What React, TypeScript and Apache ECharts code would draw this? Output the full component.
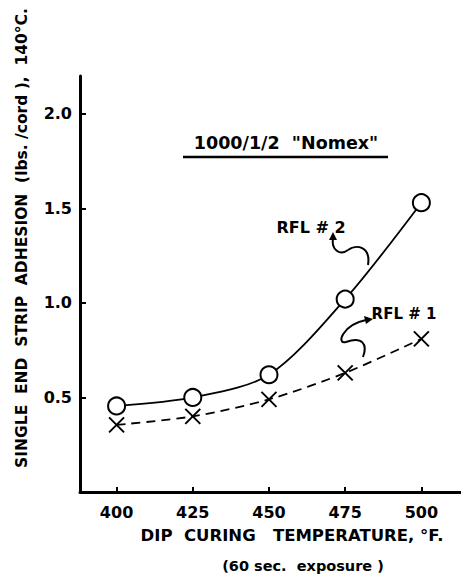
import React, { useEffect, useRef } from "react";
import * as echarts from "echarts";

const temperatures = [400, 425, 450, 475, 500];
const rfl2Values = [0.455, 0.5, 0.62, 1.02, 1.53];
const rfl1Values = [0.355, 0.4, 0.49, 0.63, 0.81];
const xTicks = [400, 425, 450, 475, 500];
const yTicks = [0.5, 1.0, 1.5, 2.0];

const FONT = "DejaVu Sans";

export default function App() {
  const ref = useRef<HTMLDivElement>(null);

  useEffect(() => {
    if (!ref.current) return;
    const chart = echarts.init(ref.current, null, { renderer: "svg" });
    const toPairs = (vals: number[]) => temperatures.map((t, i) => [t, vals[i]]);

    const option: any = {
      animation: false,
      backgroundColor: "#fff",
      grid: { left: 80, right: 0, top: 76, bottom: 84 },
      xAxis: {
        type: "value",
        min: 388,
        max: 513,
        splitLine: { show: false },
        axisLine: { lineStyle: { color: "#000", width: 3 } },
        axisTick: { inside: true, length: 5, customValues: xTicks, lineStyle: { color: "#000", width: 2 } },
        axisLabel: {
          customValues: xTicks,
          color: "#000",
          fontFamily: FONT,
          fontWeight: "bold",
          fontSize: 16,
          margin: 12,
        },
      },
      yAxis: {
        type: "value",
        min: 0,
        max: 2.2,
        splitLine: { show: false },
        axisLine: { lineStyle: { color: "#000", width: 3 } },
        axisTick: { inside: true, length: 6, customValues: yTicks, lineStyle: { color: "#000", width: 2 } },
        axisLabel: {
          customValues: yTicks,
          formatter: (v: number) => v.toFixed(1),
          color: "#000",
          fontFamily: FONT,
          fontWeight: "bold",
          fontSize: 16,
          margin: 8,
        },
      },
      series: [
        {
          name: "RFL # 2",
          type: "line",
          data: toPairs(rfl2Values),
          smooth: 0.3,
          symbol: "circle",
          symbolSize: 17,
          lineStyle: { color: "#000", width: 1.8 },
          itemStyle: { color: "#fff", borderColor: "#000", borderWidth: 2 },
          z: 3,
        },
        {
          name: "RFL # 1",
          type: "line",
          data: toPairs(rfl1Values),
          smooth: 0.3,
          symbol: "path://M0,0L10,10M10,0L0,10",
          symbolSize: 15,
          lineStyle: { color: "#000", width: 1.8, type: [9, 6] },
          itemStyle: { color: "#000", borderColor: "#000", borderWidth: 2 },
          z: 2,
        },
      ],
      graphic: [
        {
          type: "text",
          x: 22,
          y: 238,
          rotation: Math.PI / 2,
          style: {
            text: "SINGLE  END  STRIP  ADHESION  (lbs. /cord ),  140°C.",
            fontFamily: FONT,
            fontWeight: "bold",
            fontSize: 15.5,
            fill: "#000",
            textAlign: "center",
            textVerticalAlign: "middle",
          },
        },
        {
          type: "text",
          x: 292,
          y: 535,
          style: {
            text: "DIP  CURING   TEMPERATURE, °F.",
            fontFamily: FONT,
            fontWeight: "bold",
            fontSize: 16.5,
            fill: "#000",
            textAlign: "center",
            textVerticalAlign: "middle",
          },
        },
        {
          type: "text",
          x: 303,
          y: 566,
          style: {
            text: "(60 sec.  exposure )",
            fontFamily: FONT,
            fontWeight: "bold",
            fontSize: 14.5,
            fill: "#000",
            textAlign: "center",
            textVerticalAlign: "middle",
          },
        },
        {
          type: "text",
          x: 286,
          y: 143,
          style: {
            text: "1000/1/2  \"Nomex\"",
            fontFamily: FONT,
            fontWeight: "bold",
            fontSize: 17.5,
            fill: "#000",
            textAlign: "center",
            textVerticalAlign: "middle",
          },
        },
        {
          type: "line",
          shape: { x1: 183, y1: 157, x2: 388, y2: 157 },
          style: { stroke: "#000", lineWidth: 2.5 },
        },
        {
          type: "text",
          x: 311,
          y: 227,
          style: {
            text: "RFL # 2",
            fontFamily: FONT,
            fontWeight: "bold",
            fontSize: 16,
            fill: "#000",
            textAlign: "center",
            textVerticalAlign: "middle",
          },
        },
        {
          type: "bezierCurve",
          shape: { x1: 368, y1: 265, cpx1: 371, cpy1: 246, cpx2: 356, cpy2: 244, x2: 348, y2: 250 },
          style: { stroke: "#000", lineWidth: 2, fill: "none" },
        },
        {
          type: "bezierCurve",
          shape: { x1: 348, y1: 250, cpx1: 340, cpy1: 256, cpx2: 331, cpy2: 250, x2: 333, y2: 238 },
          style: { stroke: "#000", lineWidth: 2, fill: "none" },
        },
        {
          type: "polygon",
          shape: { points: [[329, 240], [333, 232], [337, 240]] },
          style: { fill: "#000" },
        },
        {
          type: "text",
          x: 404,
          y: 314,
          style: {
            text: "RFL # 1",
            fontFamily: FONT,
            fontWeight: "bold",
            fontSize: 15,
            fill: "#000",
            textAlign: "center",
            textVerticalAlign: "middle",
          },
        },
        {
          type: "bezierCurve",
          shape: { x1: 363, y1: 357, cpx1: 368, cpy1: 344, cpx2: 362, cpy2: 336, x2: 346, y2: 342 },
          style: { stroke: "#000", lineWidth: 2, fill: "none" },
        },
        {
          type: "bezierCurve",
          shape: { x1: 346, y1: 342, cpx1: 336, cpy1: 345, cpx2: 342, cpy2: 325, x2: 366, y2: 320 },
          style: { stroke: "#000", lineWidth: 2, fill: "none" },
        },
        {
          type: "polygon",
          shape: { points: [[364, 316], [373, 319], [366, 324]] },
          style: { fill: "#000" },
        },
      ],
    };
    chart.setOption(option);
    return () => chart.dispose();
  }, []);

  return (
    <div
      ref={ref}
      style={{ position: "fixed", left: 0, top: 0, width: 461, height: 576, background: "#fff" }}
    />
  );
}
